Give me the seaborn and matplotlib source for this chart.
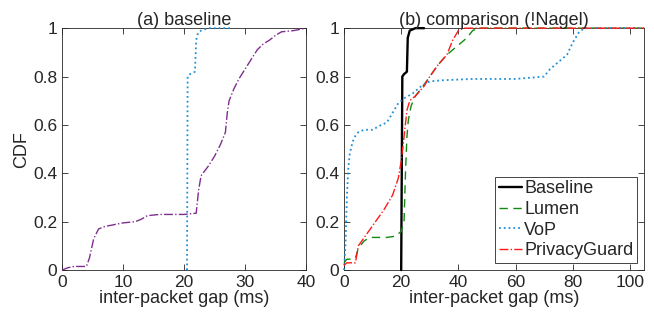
import numpy as np
import pandas as pd
import matplotlib
matplotlib.use('Agg')
import matplotlib.pyplot as plt
from matplotlib import ticker as mtick
import seaborn as sns

# panel (a) curves: inter-packet gap (ms) vs CDF
a_blue_x = [20.5, 20.6, 21.0, 21.8, 22.0, 22.3, 22.8, 24.0, 28.0]
a_blue_y = [0.0, 0.80, 0.81, 0.82, 0.95, 0.98, 0.99, 1.0, 1.0]
a_purple_x = [0, 1, 2, 4, 4.5, 5.2, 6.0, 7.0, 8.0, 10, 12, 13, 14, 16, 20,
              22, 22.4, 22.8, 24, 25, 26, 26.8, 27.1, 27.4, 28.2, 29, 30,
              31, 32, 33, 34, 35, 36, 38, 40]
a_purple_y = [0.0, 0.01, 0.015, 0.015, 0.05, 0.13, 0.17, 0.18, 0.185, 0.195,
              0.2, 0.21, 0.225, 0.23, 0.23, 0.235, 0.33, 0.39, 0.43, 0.47,
              0.52, 0.57, 0.65, 0.70, 0.75, 0.79, 0.83, 0.87, 0.91, 0.935,
              0.95, 0.97, 0.985, 0.99, 1.0]

# panel (b) curves
base_x = [20.0, 20.4, 21.0, 22.0, 22.3, 23.0, 25.0, 28.0]
base_y = [0.0, 0.80, 0.81, 0.82, 0.96, 0.99, 1.0, 1.0]
lumen_x = [0, 1, 3, 4, 5, 7, 9, 15, 18, 20, 21, 21.5, 22, 22.5, 23.5, 25,
           27, 30, 33, 36, 40, 43, 45, 47, 105]
lumen_y = [0.03, 0.045, 0.045, 0.05, 0.09, 0.12, 0.135, 0.135, 0.14, 0.16,
           0.2, 0.4, 0.55, 0.62, 0.68, 0.72, 0.75, 0.8, 0.85, 0.89, 0.93,
           0.96, 0.99, 1.0, 1.0]
vop_x = [0, 0.5, 1, 1.5, 2, 3, 4, 5, 7, 10, 13, 15, 17, 19, 21, 24, 27, 30,
         35, 45, 60, 65, 70, 72, 75, 78, 80, 82, 84, 105]
vop_y = [0.0, 0.1, 0.3, 0.42, 0.48, 0.53, 0.555, 0.57, 0.58, 0.58, 0.6,
         0.61, 0.65, 0.69, 0.71, 0.73, 0.76, 0.78, 0.785, 0.79, 0.79, 0.795,
         0.8, 0.83, 0.86, 0.89, 0.94, 0.98, 1.0, 1.0]
pg_x = [0, 1, 4, 5, 8, 11, 14, 17, 19, 20, 21, 22, 23, 25, 28, 30, 33, 36,
        38, 40, 42, 105]
pg_y = [0.02, 0.03, 0.03, 0.1, 0.15, 0.2, 0.25, 0.31, 0.38, 0.45, 0.55,
        0.66, 0.70, 0.72, 0.76, 0.8, 0.85, 0.89, 0.95, 0.99, 1.0, 1.0]

sns.set_theme(style='ticks')
plt.rcParams['font.family'] = ['Liberation Sans', 'DejaVu Sans']
plt.rcParams['axes.edgecolor'] = '#262626'
plt.rcParams['xtick.color'] = '#262626'
plt.rcParams['ytick.color'] = '#262626'
plt.rcParams['text.color'] = '#262626'
plt.rcParams['axes.labelcolor'] = '#262626'

fs = 13
fig = plt.figure(figsize=(6.54, 3.2), dpi=100)
ax1 = fig.add_axes([0.0948, 0.156, 0.373, 0.756])
ax2 = fig.add_axes([0.526, 0.156, 0.459, 0.756])

line_kw = dict(estimator=None, sort=False, clip_on=False, zorder=3)
sns.lineplot(x=a_blue_x, y=a_blue_y, ax=ax1, color='#1f8fd8',
             linestyle=':', linewidth=1.3, **line_kw)
sns.lineplot(x=a_purple_x, y=a_purple_y, ax=ax1, color='#7E2F8E',
             linestyle='-.', linewidth=1.0, **line_kw)

sns.lineplot(x=base_x, y=base_y, ax=ax2, color='black', linestyle='-',
             linewidth=1.7, label='Baseline', **line_kw)
sns.lineplot(x=lumen_x, y=lumen_y, ax=ax2, color='#118a11',
             linestyle=(0, (6, 4)), linewidth=1.0, label='Lumen', **line_kw)
sns.lineplot(x=vop_x, y=vop_y, ax=ax2, color='#1f8fd8', linestyle=':',
             linewidth=1.3, label='VoP', **line_kw)
sns.lineplot(x=pg_x, y=pg_y, ax=ax2, color='#ff1a1a', linestyle='-.',
             linewidth=1.0, label='PrivacyGuard', **line_kw)

fmt = mtick.FuncFormatter(lambda v, p: ('%g' % round(v, 2)))
for ax in (ax1, ax2):
    ax.set_ylim(0, 1)
    ax.set_yticks([0, 0.2, 0.4, 0.6, 0.8, 1])
    ax.yaxis.set_major_formatter(fmt)
    ax.tick_params(direction='in', top=True, right=True, labelsize=12.5,
                   length=4, width=0.6)
    for s in ax.spines.values():
        s.set_linewidth(0.6)
        s.set_zorder(1)
    ax.set_xlabel('inter-packet gap (ms)', fontsize=fs, labelpad=0)

ax1.set_xlim(0, 40)
ax1.set_xticks([0, 10, 20, 30, 40])
ax1.set_ylabel('CDF', fontsize=fs, labelpad=2)
ax1.set_title('(a) baseline', fontsize=fs, pad=2)

ax2.set_xlim(0, 105)
ax2.set_xticks([0, 20, 40, 60, 80, 100])
ax2.set_title('(b) comparison (!Nagel)', fontsize=fs, pad=2)
leg = ax2.legend(loc='lower right', fontsize=fs, frameon=True, fancybox=False,
                 handlelength=1.3, handletextpad=0.1, borderpad=0.2,
                 labelspacing=0.2, borderaxespad=0.4)
leg.get_frame().set_edgecolor('#262626')
leg.get_frame().set_linewidth(0.6)
leg.get_frame().set_alpha(1)
leg.set_zorder(5)

fig.savefig('out.png', dpi=100)
